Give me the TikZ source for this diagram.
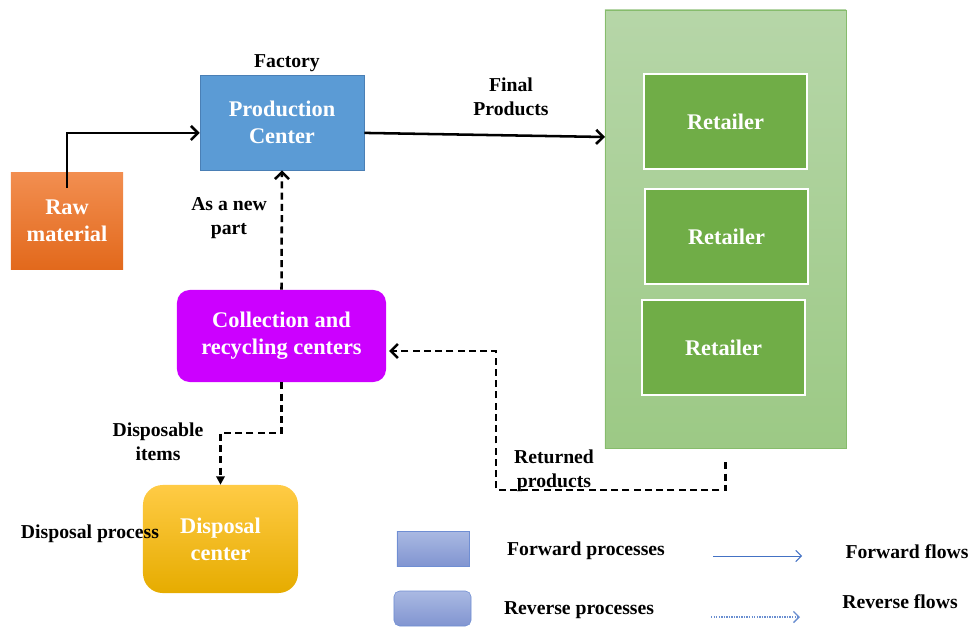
\documentclass[tikz,border=0pt]{standalone}
\usepackage{fontspec}
\setmainfont{Liberation Serif}
\usetikzlibrary{arrows.meta}

\newcommand{\boxfont}{\fontsize{15.9}{19}\selectfont\bfseries}
\newcommand{\lblfont}{\fontsize{14}{17}\selectfont\bfseries}

\definecolor{prodblue}{HTML}{5B9BD5}
\definecolor{prodline}{HTML}{4A7FB5}
\definecolor{rawtop}{HTML}{F28E50}
\definecolor{rawbot}{HTML}{E2691C}
\definecolor{grouptop}{HTML}{B6D6A8}
\definecolor{groupbot}{HTML}{9CC985}
\definecolor{groupline}{HTML}{86BC6C}
\definecolor{retgreen}{HTML}{70AD47}
\definecolor{collpurple}{HTML}{CC00FF}
\definecolor{disptop}{HTML}{FFCB45}
\definecolor{dispmid}{HTML}{FFC000}
\definecolor{dispbot}{HTML}{E6AC00}
\definecolor{legtop}{HTML}{AAB9E2}
\definecolor{legbot}{HTML}{8195D1}
\definecolor{legline}{HTML}{6F8ED3}
\definecolor{legblue}{HTML}{4472C4}

\tikzset{
  box/.style={font=\boxfont, text=white, align=center, inner sep=0pt},
  retbox/.style={box, draw=white, line width=0.9pt, fill=retgreen,
    minimum width=4.075cm, minimum height=2.375cm},
  lbl/.style={font=\lblfont, align=center, inner sep=0pt},
  flow/.style={->, line width=1.8pt},
  rflow/.style={->, line width=1.8pt, dash pattern=on 5pt off 3pt},
}

\begin{document}
\begin{tikzpicture}[x=0.025cm, y=-0.025cm,
    >={Straight Barb[length=5pt,width=10pt]}]
  \useasboundingbox (0,0) rectangle (973,626);

  % Retailer group
  \node[draw=groupline, top color=grouptop, bottom color=groupbot,
    minimum width=6.025cm, minimum height=10.95cm] (group) at (725.5,229) {};
  \node[retbox] (ret1) at (725.5,121.5) {Retailer};
  \node[retbox] (ret2) at (726.5,236.5) {Retailer};
  \node[retbox] (ret3) at (723.5,347.5) {Retailer};

  % Forward processes
  \node[box, draw=prodline, fill=prodblue, minimum width=4.1cm,
    minimum height=2.375cm] (prod) at (282,122.5) {Production\\Center};
  \node[lbl] (factory) at (287,63) {Factory};
  \node[box, top color=rawtop, bottom color=rawbot, minimum width=2.8cm,
    minimum height=2.4cm] (raw) at (67,221) {Raw\\material};

  % Reverse processes
  \node[box, fill=collpurple, rounded corners=9pt, minimum width=5.225cm,
    minimum height=2.3cm] (coll) at (281.5,336) {Collection and\\recycling centers};
  \node[box, top color=disptop, middle color=dispmid, bottom color=dispbot,
    rounded corners=14pt, minimum width=3.875cm, minimum height=2.7cm]
    (disp) at (220.5,539) {Disposal\\center};
  \node[lbl] (dproc) at (90,534) {Disposal process};

  % Forward flows
  \draw[flow] ([yshift=-0.38cm]raw.north) |- ([yshift=-0.26cm]prod.west);
  \coordinate (fin) at (605,137);
  \draw[flow] ([yshift=-0.26cm]prod.east) -- (fin);
  \node[lbl] (final) at (511,97) {Final\\Products};

  % Reverse flows
  \draw[rflow] (coll.north) -- (prod.south);
  \node[lbl] (newpart) at (229,218) {As a new\\part};
  \coordinate (dc) at (220.5,433);
  \draw[rflow, -{Triangle[length=6pt,width=6pt]}] (coll.south) |- (dc) -- (disp.north);
  \node[lbl] (dispitems) at (158,442) {Disposable\\items};
  \coordinate (rc) at (496,490);
  \draw[rflow, shorten >=2pt] ([yshift=-0.35cm]group.south) |- (rc)
    |- ([yshift=-0.375cm]coll.east);
  \node[lbl] (returned) at (554,471) {Returned\\products};

  % Legend
  \node[draw=legline, top color=legtop, bottom color=legbot,
    minimum width=1.8cm, minimum height=0.875cm] (legf) at (433,548.5) {};
  \node[draw=legline, top color=legtop, bottom color=legbot, rounded corners=4pt,
    minimum width=1.925cm, minimum height=0.875cm] (legr) at (432.5,608.5) {};
  \node[lbl] (legftext) at (586,551) {Forward processes};
  \node[lbl] (legrtext) at (579,610) {Reverse processes};
  \coordinate (ff0) at (713,556);
  \coordinate (ff1) at (802,556);
  \coordinate (rf0) at (711,617);
  \coordinate (rf1) at (800,617);
  \draw[->, legblue, line width=0.7pt, >={Straight Barb[length=4pt,width=8pt]}]
    (ff0) -- (ff1);
  \draw[->, legblue!80, line width=0.9pt, dash pattern=on 1pt off 0.8pt,
    >={Straight Barb[length=4pt,width=8pt]}] (rf0) -- (rf1);
  \node[lbl] (ffl) at (907,552) {Forward flows};
  \node[lbl] (rfl) at (900,602) {Reverse flows};
\end{tikzpicture}
\end{document}
